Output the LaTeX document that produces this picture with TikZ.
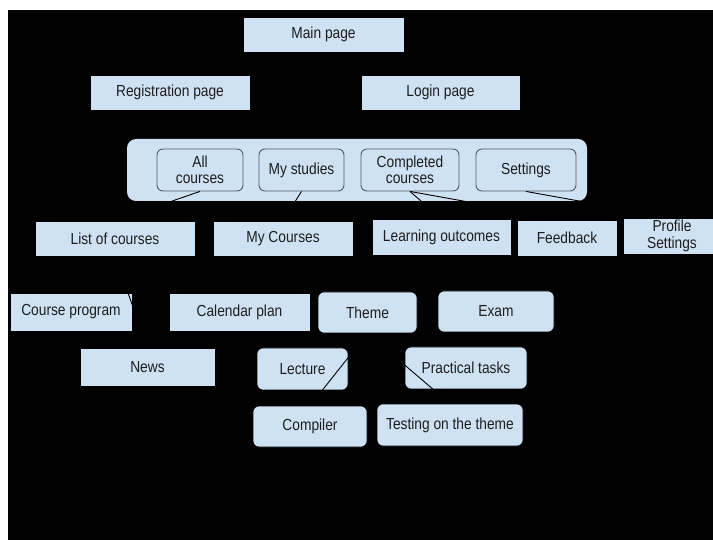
\documentclass[tikz,border=0pt]{standalone}
\usepackage{fontspec}
\setmainfont{Liberation Sans}[FakeStretch=0.86]
\definecolor{boxblue}{RGB}{207,226,243}
\definecolor{bordergray}{RGB}{85,90,100}
\definecolor{txt}{RGB}{30,30,30}
\tikzset{
  box/.style={fill=boxblue, draw=black, line width=0.6pt, inner sep=1pt, align=center,
    text=txt, font=\fontsize{16}{16.5}\selectfont},
  rbox/.style={box, rounded corners=6pt},
  ibox/.style={rbox, draw=bordergray, line width=0.9pt},
  link/.style={draw=black, line width=0.9pt}
}
\begin{document}
\begin{tikzpicture}[x=1pt,y=-1pt]
\useasboundingbox (0,0) rectangle (713,540);
\clip (0,0) rectangle (713,540);
\fill[white] (0,0) rectangle (713,540);
\fill[black] (8,10) rectangle (713,540);

% top level
\node[box, minimum width=161pt, minimum height=35pt] (main) at (323.5,34.5) {Main page};
\node[box, minimum width=160pt, minimum height=35pt] (reg) at (170,92.5) {Registration page};
\node[box, minimum width=159pt, minimum height=35pt] (login) at (440.5,92.5) {Login page};

% container with menu items
\node[rbox, draw=none, rounded corners=9pt, minimum width=460pt, minimum height=62pt] (menu) at (357,170) {};
\node[ibox, minimum width=86pt, minimum height=42pt] (allc) at (200,170) {All\\courses};
\node[ibox, minimum width=85pt, minimum height=42pt] (mystud) at (301.5,170) {My studies};
\node[ibox, minimum width=98pt, minimum height=42pt] (compl) at (410,170) {Completed\\courses};
\node[ibox, minimum width=100pt, minimum height=42pt] (sett) at (526,170) {Settings};

% second level
\node[box, minimum width=160pt, minimum height=35pt] (list) at (115,238.5) {List of courses};
\node[box, minimum width=140pt, minimum height=35pt] (mycourses) at (283,238.5) {My Courses};
\node[box, minimum width=139pt, minimum height=36pt] (learn) at (441.5,237) {Learning outcomes};
\node[box, minimum width=100pt, minimum height=36pt] (feed) at (567,238) {Feedback};
\node[box, minimum width=98pt, minimum height=36pt] (prof) at (672,236) {Profile\\Settings};

% third level
\node[box, minimum width=122pt, minimum height=38pt] (cprog) at (71,312) {Course program};
\node[box, minimum width=141pt, minimum height=38pt] (cal) at (239.5,312) {Calendar plan};
\node[rbox, minimum width=99pt, minimum height=41pt] (theme) at (367.5,312.5) {Theme};
\node[rbox, minimum width=116pt, minimum height=41pt] (exam) at (496,311.5) {Exam};

% fourth level
\node[box, minimum width=135pt, minimum height=38pt] (news) at (147.5,367) {News};
\node[rbox, minimum width=91pt, minimum height=42pt] (lect) at (302.5,369) {Lecture};
\node[rbox, minimum width=122pt, minimum height=42pt] (pract) at (466,368) {Practical tasks};

% fifth level
\node[rbox, minimum width=114pt, minimum height=41pt] (comp) at (310,426.5) {Compiler};
\node[rbox, minimum width=146pt, minimum height=42pt] (test) at (450,425) {Testing on the theme};

% connectors
\draw[link] (allc.south) -- (list.north);
\draw[link] (mystud.south) -- (mycourses.north);
\draw[link] (compl.south) -- (learn.north);
\draw[link] (compl.south) -- (feed.north);
\draw[link] (sett.south) -- (prof.north);
\draw[link] (list.south) -- (news.north);
\draw[link] (theme.south) -- (comp.north);
\draw[link] (theme.south) -- (test.north);
\end{tikzpicture}
\end{document}
